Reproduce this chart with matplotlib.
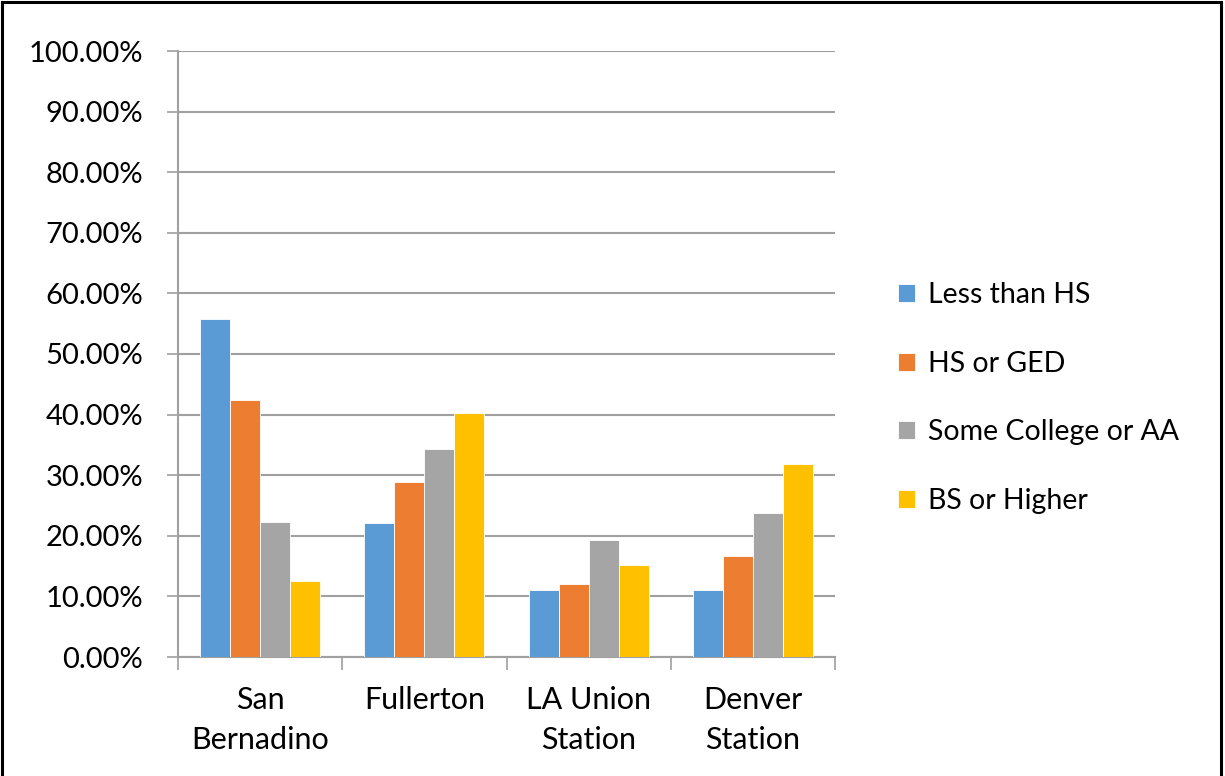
import matplotlib.pyplot as plt
from matplotlib.patches import Rectangle
from matplotlib.ticker import FuncFormatter
import numpy as np

plt.rcParams['font.family'] = ['Lato', 'DejaVu Sans']

stations = ['San\nBernadino', 'Fullerton', 'LA Union\nStation', 'Denver\nStation']
series = ['Less than HS', 'HS or GED', 'Some College or AA', 'BS or Higher']
less_hs = [55.7, 22.1, 11.1, 11.1]
hs_ged = [42.4, 28.8, 12.1, 16.7]
some_college = [22.3, 34.3, 19.3, 23.8]
bs_higher = [12.6, 40.2, 15.2, 31.9]
colors = ['#5B9BD5', '#ED7D31', '#A5A5A5', '#FFC000']

fig = plt.figure(figsize=(12.25, 7.76), dpi=100)
ax = fig.add_axes([178 / 1225, 1 - 657 / 776, 657 / 1225, 606 / 776])

x = np.arange(len(stations))
w = 0.183
for i, (vals, name) in enumerate(zip([less_hs, hs_ged, some_college, bs_higher], series)):
    ax.bar(x + (i - 1.5) * w, vals, w, color=colors[i], label=name,
           edgecolor='white', linewidth=0.6, zorder=3)

ax.set_xlim(-0.5, len(stations) - 0.5)
ax.set_ylim(0, 100)
ax.set_yticks(np.arange(0, 101, 10))
ax.yaxis.set_major_formatter(FuncFormatter(lambda v, p: '%.2f%%' % v))
ax.grid(axis='y', color='#A0A0A0', linewidth=1.5, zorder=0)

# category boundaries as ticks, labels in between
ax.set_xticks(np.arange(-0.5, len(stations), 1.0))
ax.set_xticklabels([])
ax.set_xticks(x, minor=True)
ax.set_xticklabels(stations, minor=True, fontsize=22, linespacing=1.5)
ax.tick_params(axis='x', which='major', length=9, color='#A0A0A0', width=1.2)
ax.tick_params(axis='x', which='minor', length=0, pad=21)
ax.tick_params(axis='y', length=8, color='#A0A0A0', width=1.2, labelsize=21, pad=17)

for s in ['top', 'right']:
    ax.spines[s].set_visible(False)
for s in ['left', 'bottom']:
    ax.spines[s].set_color('#A0A0A0')
    ax.spines[s].set_linewidth(1.5)

leg = fig.legend(loc='center left', bbox_to_anchor=(872 / 1225, 1 - 398 / 776),
                 frameon=False, fontsize=20.5, labelspacing=1.5,
                 handlelength=0.6, handleheight=0.6, handletextpad=0.45)

fig.patches.append(Rectangle((0.002, -0.01), 0.995, 1.007, transform=fig.transFigure,
                             fill=False, edgecolor='black', linewidth=2.2))

plt.savefig('out.png', dpi=100)
